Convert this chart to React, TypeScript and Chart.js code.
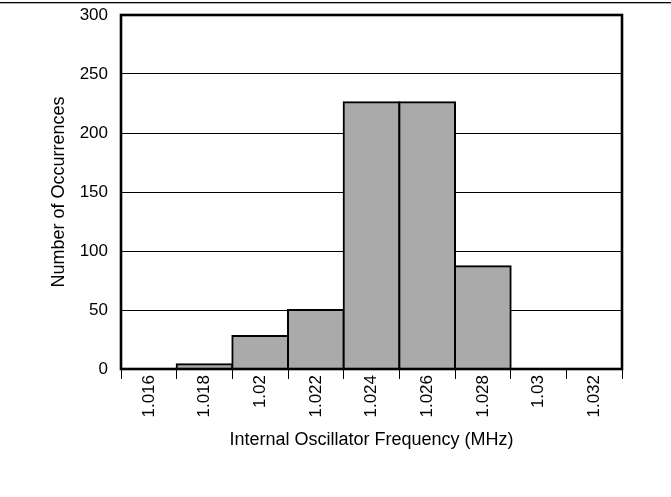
import React, { useEffect, useRef } from 'react';
import { Chart, registerables } from 'chart.js';

Chart.register(...registerables);

const categories = ['1.016', '1.018', '1.02', '1.022', '1.024', '1.026', '1.028', '1.03', '1.032'];
const occurrences = [0, 4, 28, 50, 226, 226, 87, 0, 0];
const yMin = 0;
const yMax = 300;
const yStep = 50;
const xTitle = 'Internal Oscillator Frequency (MHz)';
const yTitle = 'Number of Occurrences';

const FONT = '"Liberation Sans", Arial, Helvetica, sans-serif';

const framePlugin = {
  id: 'frame',
  beforeDraw(chart: any) {
    const ctx = chart.ctx;
    ctx.save();
    ctx.fillStyle = '#ffffff';
    ctx.fillRect(0, 0, chart.width, chart.height);
    ctx.fillStyle = '#000000';
    ctx.fillRect(0, 2, chart.width, 1.3);
    ctx.restore();
  },
  afterDatasetsDraw(chart: any) {
    const { ctx, chartArea: a } = chart;
    ctx.save();
    ctx.strokeStyle = '#000000';
    ctx.lineWidth = 2.6;
    ctx.strokeRect(a.left, a.top, a.right - a.left, a.bottom - a.top);
    ctx.restore();
  },
};

export default function App() {
  const canvasRef = useRef<HTMLCanvasElement | null>(null);

  useEffect(() => {
    if (!canvasRef.current) return;
    Chart.defaults.font.family = FONT;
    Chart.defaults.color = '#000';
    const chart = new Chart(canvasRef.current, {
      type: 'bar',
      data: {
        labels: categories,
        datasets: [
          {
            data: occurrences,
            backgroundColor: '#aaaaaa',
            borderColor: '#000000',
            borderWidth: 2,
            inflateAmount: 1,
            barPercentage: 1,
            categoryPercentage: 1,
            borderSkipped: 'start',
          } as any,
        ],
      },
      options: {
        animation: false,
        responsive: false,
        devicePixelRatio: 1,
        layout: { padding: { top: 15, right: 49, left: 0, bottom: 0 } },
        plugins: { legend: { display: false }, tooltip: { enabled: false } },
        scales: {
          x: {
            type: 'category',
            offset: true,
            grid: {
              offset: true,
              drawOnChartArea: false,
              drawTicks: true,
              tickLength: 10,
              color: '#000',
              lineWidth: 1,
            },
            border: { display: false },
            ticks: {
              minRotation: 90,
              maxRotation: 90,
              autoSkip: false,
              padding: -4,
              color: '#000',
              font: { size: 17, family: FONT },
            },
            title: {
              display: true,
              text: xTitle,
              color: '#000',
              font: { size: 18, family: FONT },
              padding: { top: 0, bottom: 46 },
            },
            afterFit(scale: any) {
              scale.height = 128;
              scale.paddingLeft = 0;
              scale.paddingRight = 0;
            },
          },
          y: {
            min: yMin,
            max: yMax,
            ticks: {
              stepSize: yStep,
              padding: 13,
              color: '#000',
              font: { size: 17, family: FONT },
            },
            grid: { color: '#000', lineWidth: 1, drawTicks: false },
            border: { display: false },
            title: {
              display: true,
              text: yTitle,
              color: '#000',
              font: { size: 18, family: FONT },
              padding: { top: 48, bottom: 0 },
            },
            afterFit(scale: any) {
              scale.width = 121;
              scale.paddingTop = 0;
              scale.paddingBottom = 0;
            },
          },
        },
      },
      plugins: [framePlugin],
    } as any);
    return () => chart.destroy();
  }, []);

  return (
    <div style={{ position: 'fixed', left: 0, top: 0, width: 671, height: 497, background: '#fff' }}>
      <canvas ref={canvasRef} width={671} height={497} style={{ display: 'block', width: 671, height: 497 }} />
    </div>
  );
}
